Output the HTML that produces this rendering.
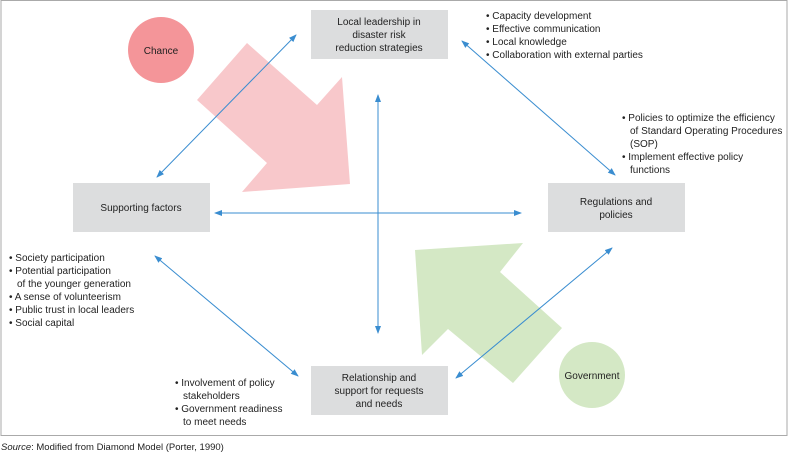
<!DOCTYPE html>
<html><head><style>
body{margin:0;background:#fff;width:788px;height:452px;overflow:hidden}
svg text{font-family:"Liberation Sans",sans-serif;fill:#222}
</style></head><body>
<svg width="788" height="452" viewBox="0 0 788 452">
<defs>
<marker id="a" markerWidth="8" markerHeight="8" refX="7" refY="4" orient="auto-start-reverse" markerUnits="userSpaceOnUse"><path d="M0,1 L8,4 L0,7 z" fill="#3a8dd0"/></marker>
</defs>
<rect x="1" y="0.5" width="786" height="435" fill="none" stroke="#aaa" stroke-width="1"/>
<polygon points="247,43 317,105 342,77 350,184 242,192 267,163 197,100" fill="#f8c8cb"/>
<polygon points="415,250 523,243 500,272 562,328 513,383 448,329 422,355" fill="#d4e8c5"/>
<circle cx="161" cy="50" r="33" fill="#f49599"/>
<circle cx="592" cy="375" r="33" fill="#d4e8c5"/>
<g fill="#dcddde">
<rect x="311" y="10" width="137" height="49"/>
<rect x="73" y="183" width="137" height="49"/>
<rect x="548" y="183" width="137" height="49"/>
<rect x="311" y="366" width="137" height="49"/>
</g>
<g stroke="#3a8dd0" stroke-width="1" marker-start="url(#a)" marker-end="url(#a)">
<line x1="296" y1="35" x2="157" y2="177"/>
<line x1="462" y1="41" x2="615" y2="175"/>
<line x1="378" y1="95" x2="378" y2="333"/>
<line x1="215" y1="213" x2="521" y2="213"/>
<line x1="155" y1="256" x2="298" y2="376"/>
<line x1="456" y1="378" x2="612" y2="248"/>
</g>
<g font-size="10" text-anchor="middle">
<text x="161" y="54">Chance</text>
<text x="592" y="379">Government</text>
<text x="379" y="25">Local leadership in</text>
<text x="379" y="38">disaster risk</text>
<text x="379" y="51">reduction strategies</text>
<text x="141" y="211">Supporting factors</text>
<text x="616" y="205">Regulations and</text>
<text x="616" y="218">policies</text>
<text x="379" y="381">Relationship and</text>
<text x="379" y="394">support for requests</text>
<text x="379" y="407">and needs</text>
</g>
<g font-size="10">
<text x="486" y="19">• Capacity development</text>
<text x="486" y="32">• Effective communication</text>
<text x="486" y="45">• Local knowledge</text>
<text x="486" y="58">• Collaboration with external parties</text>
<text x="622" y="121">• Policies to optimize the efficiency</text>
<text x="630" y="134">of Standard Operating Procedures</text>
<text x="630" y="147">(SOP)</text>
<text x="622" y="160">• Implement effective policy</text>
<text x="630" y="173">functions</text>
<text x="9" y="261">• Society participation</text>
<text x="9" y="274">• Potential participation</text>
<text x="17" y="287">of the younger generation</text>
<text x="9" y="300">• A sense of volunteerism</text>
<text x="9" y="313">• Public trust in local leaders</text>
<text x="9" y="326">• Social capital</text>
<text x="175" y="386">• Involvement of policy</text>
<text x="183" y="399">stakeholders</text>
<text x="175" y="412">• Government readiness</text>
<text x="183" y="425">to meet needs</text>
<text x="1" y="450" font-size="9.5"><tspan font-style="italic">Source</tspan>: Modified from Diamond Model (Porter, 1990)</text>
</g>
</svg>
</body></html>
